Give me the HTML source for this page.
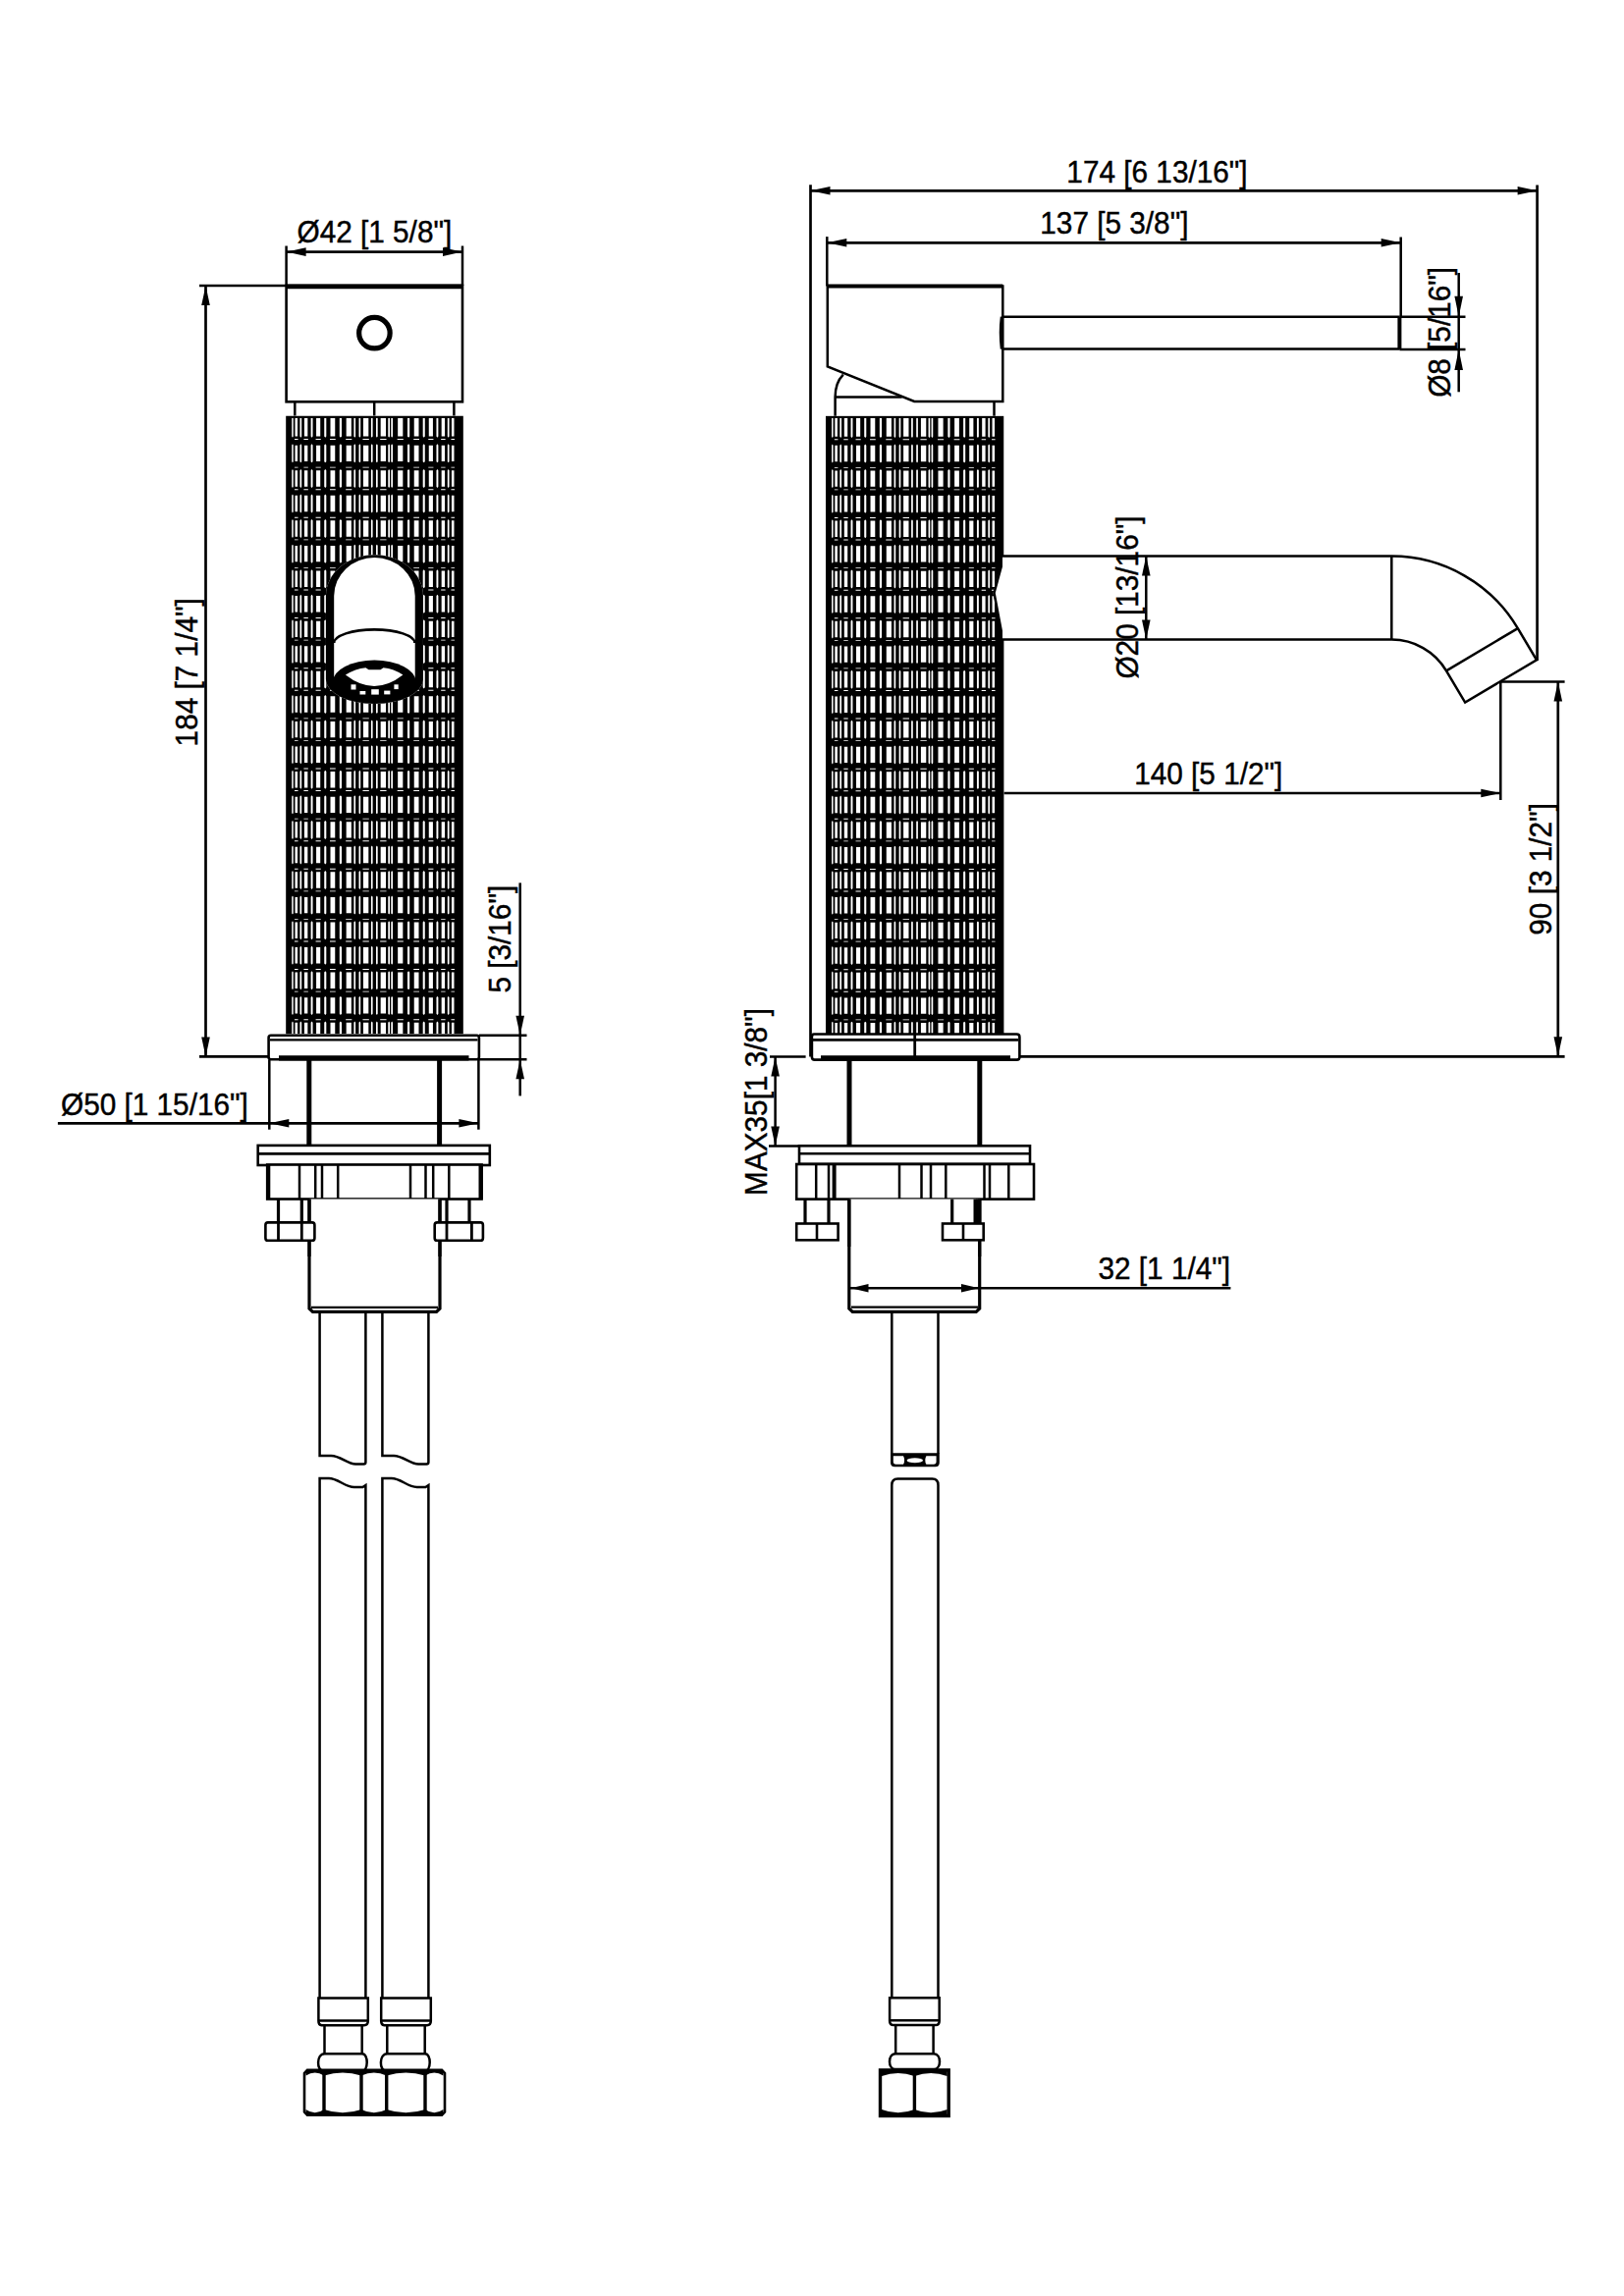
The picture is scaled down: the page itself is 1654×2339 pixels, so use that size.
<!DOCTYPE html><html><head><meta charset="utf-8"><style>html,body{margin:0;padding:0;background:#fff;}svg{display:block;} text{fill:#000;stroke:#000;stroke-width:0.45px;font-family:"Liberation Sans",sans-serif;}</style></head><body><svg width="1654" height="2339" viewBox="0 0 1654 2339">
<rect x="0" y="0" width="1654" height="2339" fill="#fff"/>
<g stroke="#000" fill="none" stroke-linecap="butt" font-family="Liberation Sans, sans-serif">
<defs><clipPath id="kl"><path d="M291.1,423.5H471.9V1053.5H291.1Z M331.95,692 V607 A49.5,41.8 0 0 1 430.95,607 V692 A49.5,25 0 0 1 331.95,692 Z" clip-rule="evenodd"/></clipPath><clipPath id="kr"><path d="M840.9,423.5H1022.5V566 L1011.5,604 L1021.5,652 H1022.8 V1053.5H840.9Z"/></clipPath></defs>
<defs><path id="krow1" d="M300.50,-8.20h2.55v16.40h-2.55zM309.91,-8.20h3.43v16.40h-3.43zM322.06,-8.20h4.17v16.40h-4.17zM336.50,-8.20h4.76v16.40h-4.76zM352.67,-8.20h5.17v16.40h-5.17zM369.95,-8.20h5.37v16.40h-5.37zM387.67,-8.20h5.37v16.40h-5.37zM405.16,-8.20h5.17v16.40h-5.17zM421.73,-8.20h4.76v16.40h-4.76zM436.76,-8.20h4.17v16.40h-4.17zM449.67,-8.20h3.43v16.40h-3.43zM459.95,-8.20h2.55v16.40h-2.55zM297.23,-8.30l0.75,-1.2l0.75,1.2v16.60l-0.75,1.2l-0.75,-1.2zM305.47,-8.30l0.86,-1.2l0.86,1.2v16.60l-0.86,1.2l-0.86,-1.2zM316.62,-8.30l0.96,-1.2l0.96,1.2v16.60l-0.96,1.2l-0.96,-1.2zM330.24,-8.30l1.04,-1.2l1.04,1.2v16.60l-1.04,1.2l-1.04,-1.2zM345.80,-8.30l1.10,-1.2l1.10,1.2v16.60l-1.10,1.2l-1.10,-1.2zM360.41,-8.30l0.85,-1.2l0.85,1.2v16.60l-0.85,1.2l-0.85,-1.2zM365.51,-8.30l0.85,-1.2l0.85,1.2v16.60l-0.85,1.2l-0.85,-1.2zM377.90,-8.30l0.85,-1.2l0.85,1.2v16.60l-0.85,1.2l-0.85,-1.2zM383.00,-8.30l0.85,-1.2l0.85,1.2v16.60l-0.85,1.2l-0.85,-1.2zM395.29,-8.30l0.85,-1.2l0.85,1.2v16.60l-0.85,1.2l-0.85,-1.2zM398.29,-8.30l0.85,-1.2l0.85,1.2v16.60l-0.85,1.2l-0.85,-1.2zM414.99,-8.30l1.10,-1.2l1.10,1.2v16.60l-1.10,1.2l-1.10,-1.2zM430.68,-8.30l1.04,-1.2l1.04,1.2v16.60l-1.04,1.2l-1.04,-1.2zM444.46,-8.30l0.96,-1.2l0.96,1.2v16.60l-0.96,1.2l-0.96,-1.2zM455.80,-8.30l0.86,-1.2l0.86,1.2v16.60l-0.86,1.2l-0.86,-1.2z" fill="#fff" stroke="none"/><path id="krow1f" d="M300.50,-10.38h2.55v18.59h-2.55zM309.91,-10.38h3.43v18.59h-3.43zM322.06,-10.38h4.17v18.59h-4.17zM336.50,-10.38h4.76v18.59h-4.76zM352.67,-10.38h5.17v18.59h-5.17zM369.95,-10.38h5.37v18.59h-5.37zM387.67,-10.38h5.37v18.59h-5.37zM405.16,-10.38h5.17v18.59h-5.17zM421.73,-10.38h4.76v18.59h-4.76zM436.76,-10.38h4.17v18.59h-4.17zM449.67,-10.38h3.43v18.59h-3.43zM459.95,-10.38h2.55v18.59h-2.55zM297.23,-10.38h1.50v18.69l-0.75,1.2l-0.75,-1.2zM305.47,-10.38h1.72v18.69l-0.86,1.2l-0.86,-1.2zM316.62,-10.38h1.92v18.69l-0.96,1.2l-0.96,-1.2zM330.24,-10.38h2.08v18.69l-1.04,1.2l-1.04,-1.2zM345.80,-10.38h2.20v18.69l-1.10,1.2l-1.10,-1.2zM360.41,-10.38h1.70v18.69l-0.85,1.2l-0.85,-1.2zM365.51,-10.38h1.70v18.69l-0.85,1.2l-0.85,-1.2zM377.90,-10.38h1.70v18.69l-0.85,1.2l-0.85,-1.2zM383.00,-10.38h1.70v18.69l-0.85,1.2l-0.85,-1.2zM395.29,-10.38h1.70v18.69l-0.85,1.2l-0.85,-1.2zM398.29,-10.38h1.70v18.69l-0.85,1.2l-0.85,-1.2zM414.99,-10.38h2.20v18.69l-1.10,1.2l-1.10,-1.2zM430.68,-10.38h2.08v18.69l-1.04,1.2l-1.04,-1.2zM444.46,-10.38h1.92v18.69l-0.96,1.2l-0.96,-1.2zM455.80,-10.38h1.72v18.69l-0.86,1.2l-0.86,-1.2z" fill="#fff" stroke="none"/><path id="krow1d" d="M300.00,-0.45h3.55v0.9h-3.55zM309.41,-0.45h4.43v0.9h-4.43zM321.56,-0.45h5.17v0.9h-5.17zM336.00,-0.45h5.76v0.9h-5.76zM352.17,-0.45h6.17v0.9h-6.17zM369.45,-0.45h6.37v0.9h-6.37zM387.17,-0.45h6.37v0.9h-6.37zM404.66,-0.45h6.17v0.9h-6.17zM421.23,-0.45h5.76v0.9h-5.76zM436.26,-0.45h5.17v0.9h-5.17zM449.17,-0.45h4.43v0.9h-4.43zM459.45,-0.45h3.55v0.9h-3.55z" fill="#fff" stroke="none"/></defs>
<g clip-path=url(#kl)>
<rect x="291.10" y="423.50" width="180.80" height="630.00" fill="#000" stroke="none"/>
<use href="#krow1f" y="436.29"/>
<use href="#krow1" y="461.86"/>
<use href="#krow1d" y="447.57"/>
<use href="#krow1" y="487.43"/>
<use href="#krow1d" y="476.14"/>
<use href="#krow1" y="513.00"/>
<use href="#krow1d" y="498.71"/>
<use href="#krow1" y="538.56"/>
<use href="#krow1d" y="527.28"/>
<use href="#krow1" y="564.13"/>
<use href="#krow1d" y="549.85"/>
<use href="#krow1" y="589.71"/>
<use href="#krow1d" y="578.42"/>
<use href="#krow1" y="615.27"/>
<use href="#krow1d" y="600.99"/>
<use href="#krow1" y="640.84"/>
<use href="#krow1d" y="629.56"/>
<use href="#krow1" y="666.41"/>
<use href="#krow1d" y="652.13"/>
<use href="#krow1" y="691.99"/>
<use href="#krow1d" y="680.70"/>
<use href="#krow1" y="717.55"/>
<use href="#krow1d" y="703.27"/>
<use href="#krow1" y="743.12"/>
<use href="#krow1d" y="731.84"/>
<use href="#krow1" y="768.70"/>
<use href="#krow1d" y="754.41"/>
<use href="#krow1" y="794.26"/>
<use href="#krow1d" y="782.98"/>
<use href="#krow1" y="819.83"/>
<use href="#krow1d" y="805.55"/>
<use href="#krow1" y="845.40"/>
<use href="#krow1d" y="834.12"/>
<use href="#krow1" y="870.98"/>
<use href="#krow1d" y="856.69"/>
<use href="#krow1" y="896.54"/>
<use href="#krow1d" y="885.26"/>
<use href="#krow1" y="922.11"/>
<use href="#krow1d" y="907.83"/>
<use href="#krow1" y="947.68"/>
<use href="#krow1d" y="936.40"/>
<use href="#krow1" y="973.25"/>
<use href="#krow1d" y="958.97"/>
<use href="#krow1" y="998.82"/>
<use href="#krow1d" y="987.54"/>
<use href="#krow1" y="1024.39"/>
<use href="#krow1d" y="1010.11"/>
<use href="#krow1" y="1049.97"/>
<use href="#krow1d" y="1038.68"/>
<use href="#krow1" y="1075.54"/>
<use href="#krow1d" y="1061.25"/>
</g>
<path d="M331.95,692 V607 A49.5,41.8 0 0 1 430.95,607 V692 A49.5,25 0 0 1 331.95,692 Z" fill="#000" stroke="none"/>
<path d="M340.2,692 V607 A41.25,39 0 0 1 422.7,607 V692 Z" fill="#fff" stroke="none"/>
<path d="M340.2,655 A41.1,13.6 0 0 1 422.4,655" stroke-width="2.6" fill="none" />
<ellipse cx="381.3" cy="694.2" rx="42.2" ry="21.6" fill="#000" stroke="none"/>
<path d="M351.9,687.6 Q362,681 372.5,680.2 L375.5,682.3 H387.5 L390.5,680.2 Q401,681 410.4,687.6 Q381.2,710.5 351.9,687.6 Z" fill="#fff" stroke="none"/>
<rect x="357.5" y="697.3" width="5.0" height="5.2" fill="#fff" stroke="none"/>
<rect x="366.5" y="704.0" width="5.8" height="3.5" fill="#fff" stroke="none"/>
<rect x="378.2" y="702.2" width="7.6" height="5.4" fill="#fff" stroke="none"/>
<rect x="391.2" y="703.6" width="6.2" height="3.8" fill="#fff" stroke="none"/>
<rect x="401.4" y="697.3" width="4.3" height="4.8" fill="#fff" stroke="none"/>
<rect x="291.60" y="291.00" width="179.40" height="118.30" rx="0" stroke-width="2.6" fill="none"/>
<line x1="291.60" y1="291.80" x2="471.00" y2="291.80" stroke-width="4.8"/>
<circle cx="381.4" cy="339.2" r="15.75" stroke-width="5.2"/>
<line x1="300.30" y1="409.30" x2="300.30" y2="423.50" stroke-width="2.5"/>
<line x1="381.20" y1="409.30" x2="381.20" y2="423.50" stroke-width="2.5"/>
<line x1="462.40" y1="409.30" x2="462.40" y2="423.50" stroke-width="2.5"/>
<line x1="291.60" y1="250.50" x2="291.60" y2="291.00" stroke-width="2.5"/>
<line x1="471.00" y1="250.50" x2="471.00" y2="291.00" stroke-width="2.5"/>
<line x1="291.60" y1="256.60" x2="471.00" y2="256.60" stroke-width="2.7"/>
<path d="M291.60,256.60 L311.60,252.30 L311.60,260.90 Z" fill="#000" stroke="none"/>
<path d="M471.00,256.60 L451.00,260.90 L451.00,252.30 Z" fill="#000" stroke="none"/>
<text x="0" y="0" transform="translate(302.50,246.80) scale(0.93,1)" text-anchor="start" font-size="32">Ø42 [1 5/8&quot;]</text>
<line x1="203.00" y1="291.00" x2="291.60" y2="291.00" stroke-width="2.7"/>
<line x1="203.00" y1="1076.40" x2="274.00" y2="1076.40" stroke-width="2.7"/>
<line x1="209.50" y1="291.00" x2="209.50" y2="1076.40" stroke-width="2.7"/>
<path d="M209.50,291.00 L213.80,311.00 L205.20,311.00 Z" fill="#000" stroke="none"/>
<path d="M209.50,1076.40 L205.20,1056.40 L213.80,1056.40 Z" fill="#000" stroke="none"/>
<text x="0" y="0" transform="translate(200.60,684.80) rotate(-90) scale(0.93,1)" text-anchor="middle" font-size="32">184 [7 1/4&quot;]</text>
<path d="M276,1054.7 H485.5 Q487.9,1054.7 487.9,1057.1 V1077 Q487.9,1079.3 485.5,1079.3 H276 Q273.6,1079.3 273.6,1077 V1057.1 Q273.6,1054.7 276,1054.7 Z" stroke-width="2.6" fill="#fff" />
<line x1="275.00" y1="1059.40" x2="486.50" y2="1059.40" stroke-width="2.4"/>
<line x1="284.00" y1="1077.90" x2="477.50" y2="1077.90" stroke-width="5.4"/>
<line x1="488.00" y1="1054.70" x2="536.50" y2="1054.70" stroke-width="2.5"/>
<line x1="488.00" y1="1079.30" x2="536.50" y2="1079.30" stroke-width="2.5"/>
<line x1="529.70" y1="899.40" x2="529.70" y2="1116.40" stroke-width="2.5"/>
<path d="M529.70,1054.70 L525.40,1034.70 L534.00,1034.70 Z" fill="#000" stroke="none"/>
<path d="M529.70,1079.30 L534.00,1099.30 L525.40,1099.30 Z" fill="#000" stroke="none"/>
<text x="0" y="0" transform="translate(520.30,956.70) rotate(-90) scale(0.93,1)" text-anchor="middle" font-size="32">5 [3/16&quot;]</text>
<line x1="314.80" y1="1079.30" x2="314.80" y2="1166.70" stroke-width="5.0"/>
<line x1="447.60" y1="1079.30" x2="447.60" y2="1166.70" stroke-width="5.0"/>
<line x1="274.30" y1="1080.00" x2="274.30" y2="1150.70" stroke-width="2.5"/>
<line x1="487.40" y1="1080.00" x2="487.40" y2="1150.70" stroke-width="2.5"/>
<line x1="58.90" y1="1144.30" x2="487.40" y2="1144.30" stroke-width="2.7"/>
<path d="M274.30,1144.30 L294.30,1140.00 L294.30,1148.60 Z" fill="#000" stroke="none"/>
<path d="M487.40,1144.30 L467.40,1148.60 L467.40,1140.00 Z" fill="#000" stroke="none"/>
<text x="0" y="0" transform="translate(62.00,1135.50) scale(0.93,1)" text-anchor="start" font-size="32">Ø50 [1 15/16&quot;]</text>
<rect x="262.70" y="1166.90" width="236.10" height="20.10" rx="0" stroke-width="2.6" fill="#fff"/>
<line x1="262.70" y1="1175.40" x2="498.80" y2="1175.40" stroke-width="2.6"/>
<rect x="272.20" y="1186.50" width="218.40" height="35.00" rx="0" stroke-width="2.6" fill="#fff"/>
<line x1="273.20" y1="1186.50" x2="273.20" y2="1221.50" stroke-width="4.2"/>
<line x1="489.60" y1="1186.50" x2="489.60" y2="1221.50" stroke-width="4.2"/>
<line x1="305.00" y1="1186.50" x2="305.00" y2="1221.50" stroke-width="2.5"/>
<line x1="321.20" y1="1186.50" x2="321.20" y2="1221.50" stroke-width="2.5"/>
<line x1="328.00" y1="1186.50" x2="328.00" y2="1221.50" stroke-width="2.5"/>
<line x1="344.20" y1="1186.50" x2="344.20" y2="1221.50" stroke-width="2.5"/>
<line x1="418.00" y1="1186.50" x2="418.00" y2="1221.50" stroke-width="2.5"/>
<line x1="433.50" y1="1186.50" x2="433.50" y2="1221.50" stroke-width="2.5"/>
<line x1="441.20" y1="1186.50" x2="441.20" y2="1221.50" stroke-width="2.5"/>
<line x1="457.30" y1="1186.50" x2="457.30" y2="1221.50" stroke-width="2.5"/>
<path d="M315,1221.5 V1333 L318.5,1336.3 H444.5 L448,1333 V1221.5" stroke-width="3.2" fill="#fff" />
<line x1="317.00" y1="1331.80" x2="446.00" y2="1331.80" stroke-width="2.2"/>
<line x1="283.50" y1="1221.50" x2="283.50" y2="1246.00" stroke-width="3.2"/>
<line x1="307.30" y1="1221.50" x2="307.30" y2="1246.00" stroke-width="3.2"/>
<path d="M272.9,1245.4 H317.9 Q320.4,1245.4 320.4,1248 V1261.2 Q320.4,1263.8 317.9,1263.8 H272.9 Q270.4,1263.8 270.4,1261.2 V1248 Q270.4,1245.4 272.9,1245.4 Z" stroke-width="2.6" fill="#fff" />
<line x1="283.50" y1="1245.40" x2="283.50" y2="1263.80" stroke-width="2.8"/>
<line x1="307.30" y1="1245.40" x2="307.30" y2="1263.80" stroke-width="2.8"/>
<line x1="455.00" y1="1221.50" x2="455.00" y2="1246.00" stroke-width="3.2"/>
<line x1="478.00" y1="1221.50" x2="478.00" y2="1246.00" stroke-width="3.2"/>
<path d="M445.2,1245.4 H489.4 Q491.9,1245.4 491.9,1248 V1261.2 Q491.9,1263.8 489.4,1263.8 H445.2 Q442.7,1263.8 442.7,1261.2 V1248 Q442.7,1245.4 445.2,1245.4 Z" stroke-width="2.6" fill="#fff" />
<line x1="455.00" y1="1245.40" x2="455.00" y2="1263.80" stroke-width="2.8"/>
<line x1="480.40" y1="1245.40" x2="480.40" y2="1263.80" stroke-width="2.8"/>
<line x1="315.00" y1="1221.50" x2="315.00" y2="1246.00" stroke-width="3.2"/>
<line x1="448.00" y1="1221.50" x2="448.00" y2="1246.00" stroke-width="3.2"/>
<line x1="315.00" y1="1263.80" x2="315.00" y2="1280.00" stroke-width="3.2"/>
<line x1="448.00" y1="1263.80" x2="448.00" y2="1280.00" stroke-width="3.2"/>
<path d="M325.6,1336 V1483  H337.3 C346.7,1483 353.7,1491.5 362.1,1491.5 H370.4 Q372.4,1491.5 372.4,1489.5 V1336" stroke-width="2.5" fill="none" />
<path d="M325.6,2035.4 V1506 H335.0 C344.3,1506 351.3,1515 360.7,1515 H369.4 L372.4,1513 V2035.4" stroke-width="2.5" fill="none" />
<path d="M324.40000000000003,2035.4 H374.79999999999995 V2059 Q374.79999999999995,2063 370.79999999999995,2063.3 H327.6 Q324.40000000000003,2063 324.40000000000003,2059 Z" stroke-width="2.5" fill="#fff" />
<line x1="324.40" y1="2058.50" x2="374.80" y2="2058.50" stroke-width="2.6"/>
<line x1="330.50" y1="2063.00" x2="330.50" y2="2092.00" stroke-width="2.5"/>
<line x1="368.70" y1="2063.00" x2="368.70" y2="2092.00" stroke-width="2.5"/>
<path d="M330.6,2092.2 H368.9 C375.4,2092.2 375.4,2110 368.4,2110 H329.6 C322.1,2110 322.1,2092.2 330.6,2092.2 Z" stroke-width="2.5" fill="#fff" />
<path d="M389.4,1336 V1483  H401.1 C410.5,1483 417.6,1491.5 426.1,1491.5 H434.4 Q436.4,1491.5 436.4,1489.5 V1336" stroke-width="2.5" fill="none" />
<path d="M389.4,2035.4 V1506 H398.8 C408.2,1506 415.2,1515 424.6,1515 H433.4 L436.4,1513 V2035.4" stroke-width="2.5" fill="none" />
<path d="M388.2,2035.4 H438.79999999999995 V2059 Q438.79999999999995,2063 434.79999999999995,2063.3 H391.4 Q388.2,2063 388.2,2059 Z" stroke-width="2.5" fill="#fff" />
<line x1="388.20" y1="2058.50" x2="438.80" y2="2058.50" stroke-width="2.6"/>
<line x1="394.30" y1="2063.00" x2="394.30" y2="2092.00" stroke-width="2.5"/>
<line x1="432.70" y1="2063.00" x2="432.70" y2="2092.00" stroke-width="2.5"/>
<path d="M394.4,2092.2 H432.9 C439.4,2092.2 439.4,2110 432.4,2110 H393.4 C385.9,2110 385.9,2092.2 394.4,2092.2 Z" stroke-width="2.5" fill="#fff" />
<path d="M313,2108.8 H450 L453,2112 V2151.5 L450,2154.8 H313 L310,2151.5 V2112 Z" stroke-width="2.6" fill="#fff" />
<line x1="330.00" y1="2108.80" x2="330.00" y2="2154.80" stroke-width="3.4"/>
<line x1="368.00" y1="2108.80" x2="368.00" y2="2154.80" stroke-width="3.4"/>
<line x1="393.70" y1="2108.80" x2="393.70" y2="2154.80" stroke-width="3.4"/>
<line x1="433.00" y1="2108.80" x2="433.00" y2="2154.80" stroke-width="3.4"/>
<path d="M311.5,2109.5 H330 V2114.5 Q320.75,2108.5 311.5,2114.5 Z M311.5,2154 H330 V2149 Q320.75,2155.5 311.5,2149 Z" fill="#000" stroke="none"/>
<path d="M330,2109.5 H368 V2114.5 Q349.0,2108.5 330,2114.5 Z M330,2154 H368 V2149 Q349.0,2155.5 330,2149 Z" fill="#000" stroke="none"/>
<path d="M368,2109.5 H393.7 V2114.5 Q380.85,2108.5 368,2114.5 Z M368,2154 H393.7 V2149 Q380.85,2155.5 368,2149 Z" fill="#000" stroke="none"/>
<path d="M393.7,2109.5 H433 V2114.5 Q413.35,2108.5 393.7,2114.5 Z M393.7,2154 H433 V2149 Q413.35,2155.5 393.7,2149 Z" fill="#000" stroke="none"/>
<path d="M433,2109.5 H451.5 V2114.5 Q442.25,2108.5 433,2114.5 Z M433,2154 H451.5 V2149 Q442.25,2155.5 433,2149 Z" fill="#000" stroke="none"/>
<defs><path id="krow2" d="M850.35,-8.20h2.55v16.40h-2.55zM859.80,-8.20h3.43v16.40h-3.43zM872.01,-8.20h4.17v16.40h-4.17zM886.52,-8.20h4.76v16.40h-4.76zM902.76,-8.20h5.17v16.40h-5.17zM920.11,-8.20h5.37v16.40h-5.37zM937.91,-8.20h5.37v16.40h-5.37zM955.47,-8.20h5.17v16.40h-5.17zM972.12,-8.20h4.76v16.40h-4.76zM987.22,-8.20h4.17v16.40h-4.17zM1000.18,-8.20h3.43v16.40h-3.43zM1010.51,-8.20h2.55v16.40h-2.55zM847.06,-8.30l0.75,-1.2l0.75,1.2v16.60l-0.75,1.2l-0.75,-1.2zM855.34,-8.30l0.86,-1.2l0.86,1.2v16.60l-0.86,1.2l-0.86,-1.2zM866.54,-8.30l0.96,-1.2l0.96,1.2v16.60l-0.96,1.2l-0.96,-1.2zM880.21,-8.30l1.04,-1.2l1.04,1.2v16.60l-1.04,1.2l-1.04,-1.2zM895.85,-8.30l1.10,-1.2l1.10,1.2v16.60l-1.10,1.2l-1.10,-1.2zM910.54,-8.30l0.85,-1.2l0.85,1.2v16.60l-0.85,1.2l-0.85,-1.2zM915.64,-8.30l0.85,-1.2l0.85,1.2v16.60l-0.85,1.2l-0.85,-1.2zM928.10,-8.30l0.85,-1.2l0.85,1.2v16.60l-0.85,1.2l-0.85,-1.2zM933.20,-8.30l0.85,-1.2l0.85,1.2v16.60l-0.85,1.2l-0.85,-1.2zM945.56,-8.30l0.85,-1.2l0.85,1.2v16.60l-0.85,1.2l-0.85,-1.2zM948.56,-8.30l0.85,-1.2l0.85,1.2v16.60l-0.85,1.2l-0.85,-1.2zM965.35,-8.30l1.10,-1.2l1.10,1.2v16.60l-1.10,1.2l-1.10,-1.2zM981.11,-8.30l1.04,-1.2l1.04,1.2v16.60l-1.04,1.2l-1.04,-1.2zM994.95,-8.30l0.96,-1.2l0.96,1.2v16.60l-0.96,1.2l-0.96,-1.2zM1006.34,-8.30l0.86,-1.2l0.86,1.2v16.60l-0.86,1.2l-0.86,-1.2z" fill="#fff" stroke="none"/><path id="krow2f" d="M850.35,-10.38h2.55v18.59h-2.55zM859.80,-10.38h3.43v18.59h-3.43zM872.01,-10.38h4.17v18.59h-4.17zM886.52,-10.38h4.76v18.59h-4.76zM902.76,-10.38h5.17v18.59h-5.17zM920.11,-10.38h5.37v18.59h-5.37zM937.91,-10.38h5.37v18.59h-5.37zM955.47,-10.38h5.17v18.59h-5.17zM972.12,-10.38h4.76v18.59h-4.76zM987.22,-10.38h4.17v18.59h-4.17zM1000.18,-10.38h3.43v18.59h-3.43zM1010.51,-10.38h2.55v18.59h-2.55zM847.06,-10.38h1.50v18.69l-0.75,1.2l-0.75,-1.2zM855.34,-10.38h1.72v18.69l-0.86,1.2l-0.86,-1.2zM866.54,-10.38h1.92v18.69l-0.96,1.2l-0.96,-1.2zM880.21,-10.38h2.08v18.69l-1.04,1.2l-1.04,-1.2zM895.85,-10.38h2.20v18.69l-1.10,1.2l-1.10,-1.2zM910.54,-10.38h1.70v18.69l-0.85,1.2l-0.85,-1.2zM915.64,-10.38h1.70v18.69l-0.85,1.2l-0.85,-1.2zM928.10,-10.38h1.70v18.69l-0.85,1.2l-0.85,-1.2zM933.20,-10.38h1.70v18.69l-0.85,1.2l-0.85,-1.2zM945.56,-10.38h1.70v18.69l-0.85,1.2l-0.85,-1.2zM948.56,-10.38h1.70v18.69l-0.85,1.2l-0.85,-1.2zM965.35,-10.38h2.20v18.69l-1.10,1.2l-1.10,-1.2zM981.11,-10.38h2.08v18.69l-1.04,1.2l-1.04,-1.2zM994.95,-10.38h1.92v18.69l-0.96,1.2l-0.96,-1.2zM1006.34,-10.38h1.72v18.69l-0.86,1.2l-0.86,-1.2z" fill="#fff" stroke="none"/><path id="krow2d" d="M849.85,-0.45h3.55v0.9h-3.55zM859.30,-0.45h4.43v0.9h-4.43zM871.51,-0.45h5.17v0.9h-5.17zM886.02,-0.45h5.76v0.9h-5.76zM902.26,-0.45h6.17v0.9h-6.17zM919.61,-0.45h6.37v0.9h-6.37zM937.41,-0.45h6.37v0.9h-6.37zM954.97,-0.45h6.17v0.9h-6.17zM971.62,-0.45h5.76v0.9h-5.76zM986.72,-0.45h5.17v0.9h-5.17zM999.68,-0.45h4.43v0.9h-4.43zM1010.01,-0.45h3.55v0.9h-3.55z" fill="#fff" stroke="none"/></defs>
<g clip-path=url(#kr)>
<rect x="840.90" y="423.70" width="181.60" height="629.80" fill="#000" stroke="none"/>
<use href="#krow2f" y="436.49"/>
<use href="#krow2" y="462.06"/>
<use href="#krow2d" y="447.77"/>
<use href="#krow2" y="487.62"/>
<use href="#krow2d" y="476.34"/>
<use href="#krow2" y="513.19"/>
<use href="#krow2d" y="498.91"/>
<use href="#krow2" y="538.76"/>
<use href="#krow2d" y="527.48"/>
<use href="#krow2" y="564.33"/>
<use href="#krow2d" y="550.05"/>
<use href="#krow2" y="589.90"/>
<use href="#krow2d" y="578.62"/>
<use href="#krow2" y="615.48"/>
<use href="#krow2d" y="601.19"/>
<use href="#krow2" y="641.04"/>
<use href="#krow2d" y="629.76"/>
<use href="#krow2" y="666.61"/>
<use href="#krow2d" y="652.33"/>
<use href="#krow2" y="692.18"/>
<use href="#krow2d" y="680.90"/>
<use href="#krow2" y="717.75"/>
<use href="#krow2d" y="703.47"/>
<use href="#krow2" y="743.32"/>
<use href="#krow2d" y="732.04"/>
<use href="#krow2" y="768.89"/>
<use href="#krow2d" y="754.61"/>
<use href="#krow2" y="794.47"/>
<use href="#krow2d" y="783.18"/>
<use href="#krow2" y="820.03"/>
<use href="#krow2d" y="805.75"/>
<use href="#krow2" y="845.60"/>
<use href="#krow2d" y="834.32"/>
<use href="#krow2" y="871.17"/>
<use href="#krow2d" y="856.89"/>
<use href="#krow2" y="896.75"/>
<use href="#krow2d" y="885.46"/>
<use href="#krow2" y="922.31"/>
<use href="#krow2d" y="908.03"/>
<use href="#krow2" y="947.88"/>
<use href="#krow2d" y="936.60"/>
<use href="#krow2" y="973.46"/>
<use href="#krow2d" y="959.17"/>
<use href="#krow2" y="999.02"/>
<use href="#krow2d" y="987.74"/>
<use href="#krow2" y="1024.60"/>
<use href="#krow2d" y="1010.31"/>
<use href="#krow2" y="1050.17"/>
<use href="#krow2d" y="1038.88"/>
<use href="#krow2" y="1075.74"/>
<use href="#krow2d" y="1061.45"/>
</g>
<path d="M1022.8,566 L1012.5,604 L1021.5,652" stroke-width="2.5" fill="none" />
<path d="M842.8,291.4 H1021.3 V408.9 H931.2 L842.8,373.4 Z" stroke-width="2.5" fill="#fff" />
<line x1="842.80" y1="291.40" x2="1021.30" y2="291.40" stroke-width="4"/>
<path d="M858.8,381.6 Q850.6,390 850.6,404.5 V423.7" stroke-width="2.5" fill="none" />
<line x1="850.60" y1="404.50" x2="918.60" y2="404.50" stroke-width="2.5"/>
<line x1="1012.50" y1="408.90" x2="1012.50" y2="423.70" stroke-width="2.5"/>
<path d="M1020,322.7 H1425.4 M1020,355.5 H1425.4 M1020,322.7 Q1018,339 1020,355.5" stroke-width="2.5" fill="none" />
<line x1="1425.40" y1="322.70" x2="1425.40" y2="356.00" stroke-width="4"/>
<line x1="825.50" y1="188.20" x2="825.50" y2="1076.40" stroke-width="2.7"/>
<line x1="1565.60" y1="188.60" x2="1565.60" y2="673.00" stroke-width="2.7"/>
<line x1="825.50" y1="194.30" x2="1565.60" y2="194.30" stroke-width="2.8"/>
<path d="M825.50,194.30 L845.50,190.00 L845.50,198.60 Z" fill="#000" stroke="none"/>
<path d="M1565.60,194.30 L1545.60,198.60 L1545.60,190.00 Z" fill="#000" stroke="none"/>
<text x="0" y="0" transform="translate(1178.50,185.70) scale(0.93,1)" text-anchor="middle" font-size="32">174 [6 13/16&quot;]</text>
<line x1="842.30" y1="241.10" x2="842.30" y2="291.40" stroke-width="2.5"/>
<line x1="1426.70" y1="241.50" x2="1426.70" y2="322.70" stroke-width="2.5"/>
<line x1="842.30" y1="247.30" x2="1426.70" y2="247.30" stroke-width="2.7"/>
<path d="M842.30,247.30 L862.30,243.00 L862.30,251.60 Z" fill="#000" stroke="none"/>
<path d="M1426.70,247.30 L1406.70,251.60 L1406.70,243.00 Z" fill="#000" stroke="none"/>
<text x="0" y="0" transform="translate(1210.50,238.00) scale(0.93,1)" text-anchor="end" font-size="32">137 [5 3/8&quot;]</text>
<line x1="1425.40" y1="322.80" x2="1492.50" y2="322.80" stroke-width="2.5"/>
<line x1="1425.40" y1="356.00" x2="1492.50" y2="356.00" stroke-width="2.5"/>
<line x1="1485.70" y1="278.00" x2="1485.70" y2="399.30" stroke-width="2.5"/>
<path d="M1485.70,322.80 L1481.40,301.80 L1490.00,301.80 Z" fill="#000" stroke="none"/>
<path d="M1485.70,356.00 L1490.00,377.00 L1481.40,377.00 Z" fill="#000" stroke="none"/>
<text x="0" y="0" transform="translate(1477.00,338.40) rotate(-90) scale(0.93,1)" text-anchor="middle" font-size="32">Ø8 [5/16&quot;]</text>
<path d="M1021,566.6 H1417.3 A149.5,149.5 0 0 1 1545.85,640.07 L1564.99,672.32 L1492.16,715.56 L1473.02,683.32 A64.8,64.8 0 0 0 1417.3,651.6 H1021" stroke-width="2.5" fill="#fff" />
<line x1="1417.30" y1="566.60" x2="1417.30" y2="651.60" stroke-width="2.5"/>
<line x1="1473.02" y1="683.32" x2="1545.85" y2="640.07" stroke-width="2.5"/>
<line x1="1167.30" y1="566.60" x2="1167.30" y2="651.60" stroke-width="2.5"/>
<path d="M1167.30,566.60 L1171.60,586.60 L1163.00,586.60 Z" fill="#000" stroke="none"/>
<path d="M1167.30,651.60 L1163.00,631.60 L1171.60,631.60 Z" fill="#000" stroke="none"/>
<text x="0" y="0" transform="translate(1158.70,608.50) rotate(-90) scale(0.93,1)" text-anchor="middle" font-size="32">Ø20 [13/16&quot;]</text>
<line x1="1528.30" y1="694.30" x2="1528.30" y2="815.00" stroke-width="2.5"/>
<line x1="1022.60" y1="808.00" x2="1528.30" y2="808.00" stroke-width="2.7"/>
<path d="M1528.30,808.00 L1508.30,812.30 L1508.30,803.70 Z" fill="#000" stroke="none"/>
<text x="0" y="0" transform="translate(1155.20,798.80) scale(0.93,1)" text-anchor="start" font-size="32">140 [5 1/2&quot;]</text>
<line x1="1528.30" y1="694.50" x2="1593.60" y2="694.50" stroke-width="2.7"/>
<line x1="1038.40" y1="1076.30" x2="1593.60" y2="1076.30" stroke-width="2.7"/>
<line x1="1586.80" y1="694.50" x2="1586.80" y2="1076.30" stroke-width="2.7"/>
<path d="M1586.80,694.50 L1591.10,714.50 L1582.50,714.50 Z" fill="#000" stroke="none"/>
<path d="M1586.80,1076.30 L1582.50,1056.30 L1591.10,1056.30 Z" fill="#000" stroke="none"/>
<text x="0" y="0" transform="translate(1579.70,885.40) rotate(-90) scale(0.93,1)" text-anchor="middle" font-size="32">90 [3 1/2&quot;]</text>
<path d="M829,1053.5 H1035.5 Q1038.4,1053.5 1038.4,1056.4 V1076.7 Q1038.4,1079.6 1035.5,1079.6 H829.8 Q826.9,1079.6 826.9,1076.7 V1056.4 Q826.9,1053.5 829,1053.5 Z" stroke-width="2.6" fill="#fff" />
<line x1="828.00" y1="1059.40" x2="1037.00" y2="1059.40" stroke-width="2.6"/>
<line x1="836.00" y1="1077.80" x2="1029.00" y2="1077.80" stroke-width="5.2"/>
<line x1="931.70" y1="1053.50" x2="931.70" y2="1079.60" stroke-width="2.8"/>
<line x1="784.00" y1="1076.40" x2="820.60" y2="1076.40" stroke-width="2.5"/>
<line x1="783.00" y1="1167.50" x2="815.40" y2="1167.50" stroke-width="2.5"/>
<line x1="789.60" y1="1076.40" x2="789.60" y2="1167.50" stroke-width="2.5"/>
<path d="M789.60,1076.40 L793.90,1096.40 L785.30,1096.40 Z" fill="#000" stroke="none"/>
<path d="M789.60,1167.50 L785.30,1147.50 L793.90,1147.50 Z" fill="#000" stroke="none"/>
<text x="0" y="0" transform="translate(780.80,1122.50) rotate(-90) scale(0.93,1)" text-anchor="middle" font-size="32">MAX35[1 3/8&quot;]</text>
<line x1="865.00" y1="1079.60" x2="865.00" y2="1167.50" stroke-width="5.0"/>
<line x1="997.80" y1="1079.60" x2="997.80" y2="1167.50" stroke-width="5.0"/>
<rect x="814.00" y="1167.30" width="235.00" height="18.50" rx="0" stroke-width="2.6" fill="#fff"/>
<line x1="814.00" y1="1175.20" x2="1049.00" y2="1175.20" stroke-width="2.6"/>
<rect x="811.20" y="1186.00" width="241.80" height="35.60" rx="0" stroke-width="2.6" fill="#fff"/>
<line x1="831.20" y1="1186.00" x2="831.20" y2="1221.60" stroke-width="2.5"/>
<line x1="844.00" y1="1186.00" x2="844.00" y2="1221.60" stroke-width="2.5"/>
<line x1="916.00" y1="1186.00" x2="916.00" y2="1221.60" stroke-width="2.5"/>
<line x1="938.50" y1="1186.00" x2="938.50" y2="1221.60" stroke-width="2.5"/>
<line x1="948.00" y1="1186.00" x2="948.00" y2="1221.60" stroke-width="2.5"/>
<line x1="963.30" y1="1186.00" x2="963.30" y2="1221.60" stroke-width="2.5"/>
<line x1="1002.50" y1="1186.00" x2="1002.50" y2="1221.60" stroke-width="2.5"/>
<line x1="1008.00" y1="1186.00" x2="1008.00" y2="1221.60" stroke-width="2.5"/>
<line x1="1027.30" y1="1186.00" x2="1027.30" y2="1221.60" stroke-width="2.5"/>
<line x1="849.60" y1="1186.00" x2="849.60" y2="1221.60" stroke-width="4"/>
<path d="M864.8,1221.6 V1333 L868.3,1336.3 H994.2 L997.7,1333 V1221.6" stroke-width="3.2" fill="#fff" />
<line x1="867.00" y1="1331.60" x2="996.00" y2="1331.60" stroke-width="2.2"/>
<line x1="820.00" y1="1221.60" x2="820.00" y2="1246.50" stroke-width="3.2"/>
<line x1="844.00" y1="1221.60" x2="844.00" y2="1246.50" stroke-width="3.2"/>
<rect x="811.20" y="1246.50" width="42.40" height="16.80" rx="0" stroke-width="2.6" fill="#fff"/>
<line x1="832.00" y1="1246.50" x2="832.00" y2="1263.30" stroke-width="2.6"/>
<line x1="969.70" y1="1221.60" x2="969.70" y2="1246.50" stroke-width="3.2"/>
<line x1="995.30" y1="1221.60" x2="995.30" y2="1246.50" stroke-width="3.2"/>
<rect x="960.00" y="1246.50" width="41.70" height="16.80" rx="0" stroke-width="2.6" fill="#fff"/>
<line x1="981.00" y1="1246.50" x2="981.00" y2="1263.30" stroke-width="2.6"/>
<line x1="995.50" y1="1221.60" x2="995.50" y2="1246.50" stroke-width="8"/>
<line x1="864.80" y1="1221.60" x2="864.80" y2="1270.00" stroke-width="3.2"/>
<line x1="997.70" y1="1263.30" x2="997.70" y2="1280.00" stroke-width="3.2"/>
<line x1="865.00" y1="1312.20" x2="1253.40" y2="1312.20" stroke-width="2.5"/>
<path d="M866.50,1312.20 L884.50,1307.90 L884.50,1316.50 Z" fill="#000" stroke="none"/>
<path d="M997.00,1312.20 L979.00,1316.50 L979.00,1307.90 Z" fill="#000" stroke="none"/>
<text x="0" y="0" transform="translate(1118.50,1303.00) scale(0.93,1)" text-anchor="start" font-size="32">32 [1 1/4&quot;]</text>
<path d="M908.3,1336 V1481" stroke-width="2.5" fill="none" />
<path d="M955.5,1336 V1481" stroke-width="2.5" fill="none" />
<path d="M907,1480.2 H956.8 V1490 Q956.8,1494.2 952.6,1494.2 H911.2 Q907,1494.2 907,1490 Z" fill="#000" stroke="none"/>
<path d="M909.8,1483.2 H920 Q922.4,1487.4 920,1491.7 H912.6 Q909.8,1491.7 909.8,1489 Z M923.6,1487.8 A8.2,2.5 0 0 1 940,1487.8 A8.2,2.5 0 0 1 923.6,1487.8 Z M953.6,1483.2 H943.4 Q941,1487.4 943.4,1491.7 H950.8 Q953.6,1491.7 953.6,1489 Z" fill="#fff" stroke="none"/>
<path d="M908.3,2035.2 V1513 Q908.3,1506.6 914.3,1506.6 H949.5 Q955.5,1506.6 955.5,1513 V2035.2" stroke-width="2.5" fill="none" />
<path d="M906.0999999999999,2035.2 H956.7 V2059 Q956.7,2063 952.7,2063.1 H910.3 Q906.0999999999999,2063 906.0999999999999,2059 Z" stroke-width="2.5" fill="#fff" />
<line x1="906.10" y1="2058.30" x2="956.70" y2="2058.30" stroke-width="2.6"/>
<line x1="912.20" y1="2063.00" x2="912.20" y2="2092.30" stroke-width="2.5"/>
<line x1="950.60" y1="2063.00" x2="950.60" y2="2092.30" stroke-width="2.5"/>
<path d="M912,2092.3 H951 C959,2092.3 959,2108 951,2108 H912 C904,2108 904,2092.3 912,2092.3 Z" stroke-width="2.5" fill="#fff" />
<rect x="896.50" y="2108.90" width="69.70" height="46.60" rx="0" stroke-width="3.4" fill="#fff"/>
<line x1="931.40" y1="2108.90" x2="931.40" y2="2155.50" stroke-width="3.4"/>
<path d="M898,2110 H931.4 V2115 Q914.7,2109 898,2115 Z M898,2154 H931.4 V2149 Q914.7,2155.5 898,2149 Z" fill="#000" stroke="none"/>
<path d="M931.4,2110 H964.7 V2115 Q948.05,2109 931.4,2115 Z M931.4,2154 H964.7 V2149 Q948.05,2155.5 931.4,2149 Z" fill="#000" stroke="none"/>
</g></svg></body></html>
